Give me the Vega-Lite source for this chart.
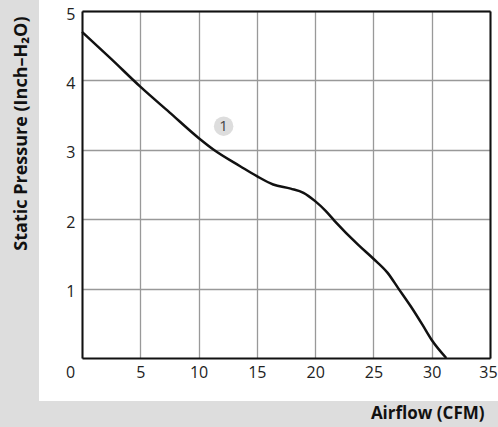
{
  "$schema": "https://vega.github.io/schema/vega-lite/v6.json",
  "width": 408,
  "height": 347,
  "autosize": {"type": "none"},
  "padding": {"left": 82, "top": 11, "right": 8, "bottom": 69},
  "background": "#dddddd",
  "config": {
    "view": {"fill": "white", "stroke": "white", "strokeWidth": 86},
    "font": "Open Sans"
  },
  "datasets": {
    "curve": [
      {"airflow": 0, "pressure": 4.70},
      {"airflow": 2.5, "pressure": 4.31},
      {"airflow": 5, "pressure": 3.91},
      {"airflow": 7.5, "pressure": 3.54},
      {"airflow": 10, "pressure": 3.17},
      {"airflow": 11.3, "pressure": 3.0},
      {"airflow": 13.6, "pressure": 2.76},
      {"airflow": 15, "pressure": 2.62},
      {"airflow": 16.4, "pressure": 2.50},
      {"airflow": 17.9, "pressure": 2.44},
      {"airflow": 19, "pressure": 2.38},
      {"airflow": 20, "pressure": 2.26},
      {"airflow": 20.9, "pressure": 2.12},
      {"airflow": 21.7, "pressure": 1.97},
      {"airflow": 23.7, "pressure": 1.63},
      {"airflow": 25, "pressure": 1.43},
      {"airflow": 26.2, "pressure": 1.23},
      {"airflow": 27.15, "pressure": 1.0},
      {"airflow": 28.2, "pressure": 0.745},
      {"airflow": 29.2, "pressure": 0.48},
      {"airflow": 30, "pressure": 0.26},
      {"airflow": 31.25, "pressure": 0}
    ],
    "notes": [
      {"airflow": 12.15, "pressure": 3.34, "label": "1"}
    ]
  },
  "layer": [
    {
      "data": {"name": "curve"},
      "mark": {"type": "line", "interpolate": "monotone", "color": "#111111", "strokeWidth": 2.5},
      "encoding": {
        "x": {
          "field": "airflow", "type": "quantitative",
          "scale": {"domain": [0, 35], "nice": false},
          "axis": {
            "values": [0, 5, 10, 15, 20, 25, 30, 35],
            "grid": true, "gridColor": "#999999", "gridWidth": 1.3,
            "domainColor": "#111111", "domainWidth": 2,
            "ticks": false,
            "labelFontSize": 16, "labelColor": "#222222", "labelPadding": 6,
            "labelFlush": false,
            "labelOffset": {"condition": [
              {"test": "datum.value == 0", "value": -12},
              {"test": "datum.value == 35", "value": -2}
            ], "value": 0},
            "title": "Airflow (CFM)",
            "titleFontSize": 17, "titleFontWeight": "bold", "titleColor": "#111111",
            "titleAnchor": "end", "titleAlign": "right", "titleBaseline": "middle",
            "titleX": 402, "titleY": 55
          }
        },
        "y": {
          "field": "pressure", "type": "quantitative",
          "scale": {"domain": [0, 5], "nice": false},
          "axis": {
            "values": [1, 2, 3, 4, 5],
            "grid": true, "gridColor": "#999999", "gridWidth": 1.3,
            "domainColor": "#111111", "domainWidth": 2,
            "ticks": false,
            "labelFontSize": 16, "labelColor": "#222222", "labelPadding": 7,
            "labelOffset": 3, "labelFlush": false,
            "title": "Static Pressure (Inch–H₂O)",
            "titleFontSize": 18, "titleFontWeight": "bold", "titleColor": "#111111",
            "titleAngle": -90, "titleAlign": "right", "titleBaseline": "middle",
            "titleX": -61, "titleY": 5
          }
        }
      }
    },
    {
      "data": {"name": "notes"},
      "mark": {"type": "point", "filled": true, "size": 380, "color": "#dddddd", "opacity": 1},
      "encoding": {
        "x": {
          "field": "airflow", "type": "quantitative",
          "scale": {"domain": [0, 35], "nice": false},
          "axis": {"orient": "top", "labels": false, "ticks": false, "grid": false, "title": null,
                   "domainColor": "#111111", "domainWidth": 2}
        },
        "y": {
          "field": "pressure", "type": "quantitative",
          "scale": {"domain": [0, 5], "nice": false},
          "axis": {"orient": "right", "labels": false, "ticks": false, "grid": false, "title": null,
                   "domainColor": "#111111", "domainWidth": 2}
        }
      }
    },
    {
      "data": {"name": "notes"},
      "mark": {"type": "text", "fontSize": 15, "color": "#444444"},
      "encoding": {
        "x": {"field": "airflow", "type": "quantitative", "scale": {"domain": [0, 35], "nice": false}, "axis": null},
        "y": {"field": "pressure", "type": "quantitative", "scale": {"domain": [0, 5], "nice": false}, "axis": null},
        "text": {"field": "label"}
      }
    }
  ],
  "resolve": {"axis": {"x": "independent", "y": "independent"}}
}
